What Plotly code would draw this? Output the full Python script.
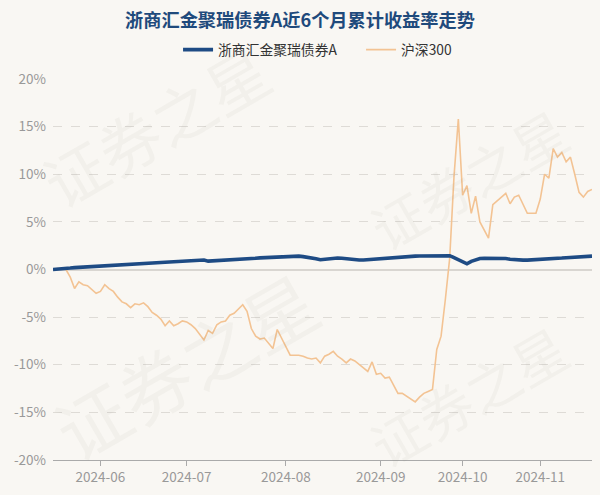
import plotly.graph_objects as go

# ---- trading-day categories (day numbers per month) ----
may_days = [17, 20, 21, 22, 23, 24, 27, 28, 29, 30, 31]
jun_days = [3, 4, 5, 6, 7, 11, 12, 13, 14, 17, 18, 19, 20, 21, 24, 25, 26, 27, 28]
jul_days = [1, 2, 3, 4, 5, 8, 9, 10, 11, 12, 15, 16, 17, 18, 19, 22, 23, 24, 25, 26, 29, 30, 31]
aug_days = [1, 2, 5, 6, 7, 8, 9, 12, 13, 14, 15, 16, 19, 20, 21, 22, 23, 26, 27, 28, 29, 30]
sep_days = [2, 3, 4, 5, 6, 9, 10, 11, 12, 13, 18, 19, 20, 23, 24, 25, 26, 27, 30]
oct_days = [8, 9, 10, 11, 14, 15, 16, 17, 18, 21, 22, 23, 24, 25, 28, 29, 30, 31]
nov_days = [1, 4, 5, 6, 7, 8, 11, 12, 13, 14, 15, 18, 19, 20]

dates = []
for m, days in [(5, may_days), (6, jun_days), (7, jul_days), (8, aug_days),
                (9, sep_days), (10, oct_days), (11, nov_days)]:
    dates += [f"2024-{m:02d}-{d:02d}" for d in days]

# ---- series (cumulative return, %) ----
fund_values = [
    0.00, 0.02, 0.05, 0.10, 0.15, 0.20, 0.23, 0.26, 0.29, 0.32, 0.35,
    0.38, 0.42, 0.45, 0.48, 0.52, 0.55, 0.58, 0.60, 0.62, 0.64, 0.66,
    0.68, 0.70, 0.72, 0.74, 0.76, 0.78, 0.80, 0.82, 0.84, 0.85, 0.87,
    0.89, 0.92, 1.00, 0.88, 0.90, 0.93, 0.96, 0.98, 1.00, 1.03, 1.06,
    1.08, 1.10, 1.14, 1.18, 1.22, 1.25, 1.28, 1.31, 1.34, 1.36, 1.38,
    1.40, 1.42, 1.40, 1.35, 1.30, 1.25, 1.12, 1.02, 1.08, 1.14, 1.18,
    1.20, 1.18, 1.12, 1.06, 1.02, 1.00, 1.00, 1.04, 1.08, 1.12, 1.16,
    1.20, 1.24, 1.27, 1.30, 1.33, 1.36, 1.38, 1.40, 1.41, 1.42, 1.43,
    1.44, 1.44, 1.45, 1.45, 1.45, 1.25, 1.00, 0.80, 0.60, 0.85, 1.05,
    1.15, 1.17, 1.18, 1.20, 1.20, 1.20, 1.15, 1.08, 1.02, 1.00, 0.98,
    0.98, 1.00, 1.00, 1.05, 1.08, 1.12, 1.15, 1.18, 1.20, 1.24, 1.28,
    1.32, 1.35, 1.37, 1.38, 1.40,
]
csi300_values = [
    0.0, 0.1, 0.1, 0.0, -0.8, -2.0, -1.3, -1.6, -1.7, -2.1, -2.5,
    -2.3, -1.6, -2.0, -2.3, -2.9, -3.4, -3.6, -4.0, -3.6, -3.7, -3.5,
    -3.9, -4.5, -4.8, -5.2, -5.9, -5.4, -5.9, -5.7, -5.4, -5.5, -5.8,
    -6.2, -6.8, -7.4, -6.4, -6.7, -5.8, -5.5, -5.4, -4.8, -4.6, -4.2,
    -3.7, -4.4, -6.2, -7.0, -7.3, -7.2, -7.8, -8.3, -6.3, -7.2, -8.1,
    -9.0, -9.0, -9.0, -9.1, -9.3, -9.4, -9.3, -9.8, -9.1, -8.9, -8.6,
    -9.1, -9.4, -9.8, -9.4, -9.6, -10.0, -10.4, -10.7, -9.7, -11.0, -10.9,
    -11.4, -11.3, -12.2, -13.0, -13.0, -13.3, -13.6, -13.9, -13.4, -13.0, -12.8,
    -12.6, -8.4, -7.0, -3.1, 1.2, 9.8, 15.8, 7.8, 8.8, 5.9, 7.7,
    5.0, 4.2, 3.3, 6.8, 7.2, 7.6, 8.0, 6.9, 7.6, 7.8, 6.8,
    5.9, 5.9, 5.9, 7.4, 10.0, 9.6, 12.7, 11.8, 12.3, 11.3, 11.8,
    10.0, 8.1, 7.6, 8.2, 8.4,
]

series_names = ["浙商汇金聚瑞债券A", "沪深300"]
tick_dates = ["2024-06-03", "2024-07-02", "2024-08-02", "2024-09-03", "2024-10-09", "2024-11-04"]
tick_labels = ["2024-06", "2024-07", "2024-08", "2024-09", "2024-10", "2024-11"]
y_ticks = [-20, -15, -10, -5, 0, 5, 10, 15, 20]
y_tick_labels = [f"{v}%" for v in y_ticks]
title_text = "浙商汇金聚瑞债券A近6个月累计收益率走势"
watermark = "证券之星"

FONT = "Noto Sans CJK SC, Noto Sans, sans-serif"
BG = "#f9f7f3"

fig = go.Figure()
fig.add_trace(go.Scatter(
    x=dates, y=csi300_values, name=series_names[1], mode="lines",
    line=dict(color="#f3c393", width=1.6), hoverinfo="skip",
))
fig.add_trace(go.Scatter(
    x=dates, y=fund_values, name=series_names[0], mode="lines",
    line=dict(color="#1e4b84", width=3.6), hoverinfo="skip",
))

# watermarks (paper coordinates of their centres)
for (wx, wy, sz) in [(0.19, 0.88, 62), (0.245, 0.25, 72), (0.77, 0.74, 54), (0.77, 0.17, 54)]:
    fig.add_annotation(
        x=wx, y=wy, xref="paper", yref="paper", xanchor="center", yanchor="middle",
        text=watermark, showarrow=False, textangle=-30,
        font=dict(family=FONT, size=sz, color="rgba(120,110,100,0.05)"),
    )

fig.update_layout(
    width=600, height=495,
    paper_bgcolor=BG, plot_bgcolor=BG,
    margin=dict(l=53, r=8, t=79, b=35),
    font=dict(family=FONT, color="#999999", size=12),
    title=dict(text=f"<b>{title_text}</b>", x=0.5, xanchor="center", xref="container",
               y=0.958, yanchor="middle", font=dict(family=FONT, size=18.2, color="#1f4a7c")),
    legend=dict(orientation="h", x=0.232, xanchor="left", y=1.077, yanchor="middle",
                font=dict(family=FONT, size=13.8, color="#333333"),
                traceorder="reversed", bgcolor="rgba(0,0,0,0)", entrywidth=138, entrywidthmode="pixels"),
    showlegend=True,
)
fig.update_xaxes(
    type="category", range=[0, len(dates) - 1],
    tickmode="array", tickvals=tick_dates, ticktext=tick_labels,
    showgrid=False, showline=True, linecolor="#aaaaaa", linewidth=1,
    ticks="outside", ticklen=5, tickcolor="#aaaaaa", tickfont=dict(size=13.5, color="#999999"),
    zeroline=False,
)
fig.update_yaxes(
    range=[-20, 20], tickmode="array", tickvals=y_ticks, ticktext=y_tick_labels,
    showgrid=True, gridcolor="#dedbd6", griddash="dash", gridwidth=1,
    zeroline=True, zerolinecolor="#d9d6d1", zerolinewidth=1.5,
    showline=False, ticks="", ticklabelstandoff=6, tickfont=dict(size=13.5, color="#999999"),
)

fig.write_html("out.html", config={"displayModeBar": False},
               post_script="document.body.style.margin='0';")
